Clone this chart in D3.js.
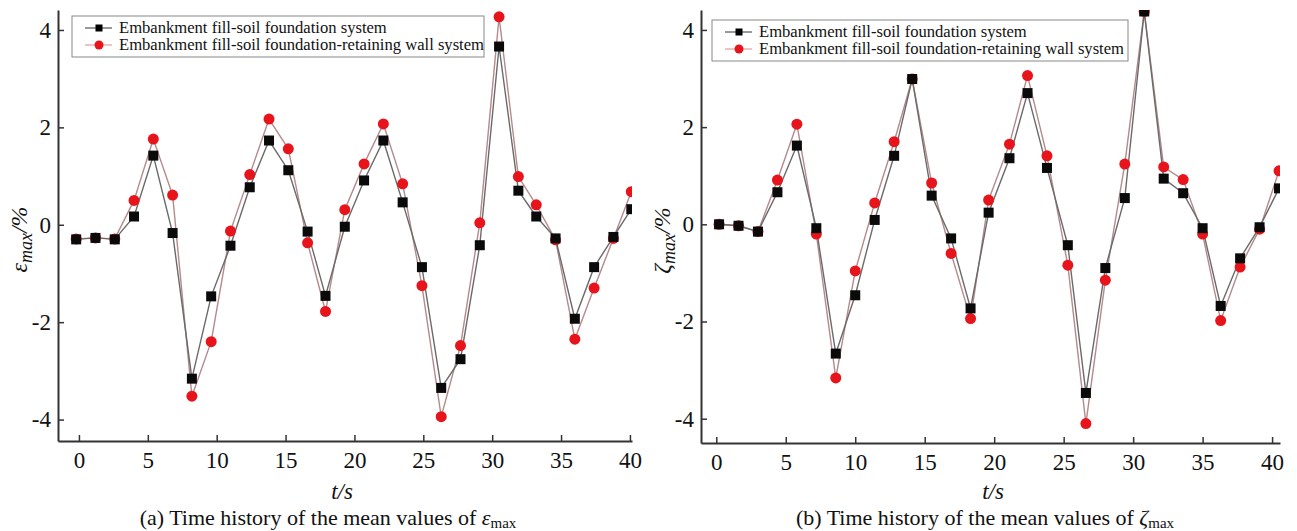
<!DOCTYPE html>
<html>
<head>
<meta charset="utf-8">
<script src="https://cdn.jsdelivr.net/npm/d3@7"></script>
<style>
  body { margin: 0; background: #fff; }
  svg text { font-family: "Liberation Serif", "Times New Roman", serif; }
</style>
</head>
<body>
<svg id="chart" width="1297" height="531"></svg>
<script>
// temps (s) et valeurs
const tA = [-0.2, 1.2, 2.6, 4.0, 5.4, 6.8, 8.2, 9.6, 11.0, 12.4, 13.8, 15.2, 16.6, 17.9, 19.3,
  20.7, 22.1, 23.5, 24.9, 26.3, 27.7, 29.1, 30.5, 31.9, 33.2, 34.6, 36.0, 37.4, 38.8, 40.1];
const epsSoil = [-0.30, -0.27, -0.30, 0.17, 1.42, -0.17, -3.16, -1.47, -0.43, 0.77, 1.73, 1.12, -0.14, -1.46, -0.04,
  0.91, 1.73, 0.46, -0.87, -3.35, -2.76, -0.42, 3.66, 0.70, 0.17, -0.28, -1.93, -0.87, -0.25, 0.32];
const epsWall = [-0.29, -0.27, -0.29, 0.50, 1.76, 0.61, -3.52, -2.40, -0.13, 1.03, 2.17, 1.56, -0.37, -1.78, 0.31,
  1.25, 2.07, 0.84, -1.25, -3.94, -2.48, 0.04, 4.27, 0.99, 0.41, -0.31, -2.35, -1.30, -0.28, 0.68];

const tB = [0.2, 1.6, 3.0, 4.4, 5.8, 7.2, 8.6, 10.0, 11.4, 12.8, 14.1, 15.5, 16.9, 18.3, 19.6,
  21.1, 22.4, 23.8, 25.3, 26.6, 28.0, 29.4, 30.8, 32.2, 33.6, 35.0, 36.3, 37.7, 39.1, 40.5];
const zetaSoil = [0.00, -0.03, -0.15, 0.66, 1.62, -0.08, -2.66, -1.46, 0.09, 1.41, 2.99, 0.59, -0.29, -1.73, 0.24,
  1.36, 2.70, 1.16, -0.43, -3.47, -0.90, 0.54, 4.38, 0.94, 0.64, -0.08, -1.68, -0.70, -0.06, 0.74];
const zetaWall = [0.00, -0.03, -0.15, 0.91, 2.06, -0.20, -3.16, -0.96, 0.44, 1.70, 2.99, 0.85, -0.60, -1.94, 0.50,
  1.65, 3.06, 1.41, -0.84, -4.10, -1.15, 1.24, 4.38, 1.18, 0.92, -0.20, -1.98, -0.88, -0.10, 1.10];

const xTicks = [0, 5, 10, 15, 20, 25, 30, 35, 40];
const yTicks = [-4, -2, 0, 2, 4];
const seriesNames = ["Embankment fill-soil foundation system",
  "Embankment fill-soil foundation-retaining wall system"];

const svg = d3.select("#chart");
const FONT = "Liberation Serif";

const panels = [
  { id: "a", t: tA, soil: epsSoil, wall: epsWall, sym: "ε",
    xDom: [-1.52, 40.15], xRange: [58, 632], yDom: [-4.44, 4.41], yRange: [441, 10],
    legend: { x: 72, y: 16, w: 412, h: 41 }, labelX: 27, tsX: 342, capX: 328 },
  { id: "b", t: tB, soil: zetaSoil, wall: zetaWall, sym: "ζ",
    xDom: [-1.1, 40.57], xRange: [701, 1280], yDom: [-4.5, 4.41], yRange: [443, 10],
    legend: { x: 712, y: 20, w: 416, h: 41 }, labelX: 670, tsX: 993, capX: 985 }
];

panels.forEach((p) => {
  const x = d3.scaleLinear().domain(p.xDom).range(p.xRange);
  const y = d3.scaleLinear().domain(p.yDom).range(p.yRange);
  const g = svg.append("g");

  g.append("clipPath").attr("id", "clip_" + p.id)
    .append("rect")
    .attr("x", p.xRange[0]).attr("y", p.yRange[1])
    .attr("width", p.xRange[1] - p.xRange[0]).attr("height", p.yRange[0] - p.yRange[1]);

  // axes (ticks vers l'intérieur)
  const fmt = (d) => String(d);
  const xAxis = g.append("g").attr("transform", `translate(0,${p.yRange[0]})`)
    .call(d3.axisBottom(x).tickValues(xTicks).tickFormat(fmt).tickSize(-6).tickPadding(11).tickSizeOuter(0));
  const yAxis = g.append("g").attr("transform", `translate(${p.xRange[0]},0)`)
    .call(d3.axisLeft(y).tickValues(yTicks).tickFormat(fmt).tickSize(-6).tickPadding(7).tickSizeOuter(0));
  [xAxis, yAxis].forEach((a) => {
    a.attr("font-family", FONT).attr("font-size", 23);
    a.select(".domain").attr("stroke", "#333").attr("stroke-width", 2);
    a.selectAll(".tick line").attr("stroke", "#333").attr("stroke-width", 1.5);
    a.selectAll(".tick text").attr("fill", "#111");
  });
  xAxis.selectAll(".tick text").attr("dy", "0.71em");

  const plot = g.append("g").attr("clip-path", `url(#clip_${p.id})`);
  const soilData = p.t.map((t, i) => ({ t, v: p.soil[i] }));
  const wallData = p.t.map((t, i) => ({ t, v: p.wall[i] }));
  const line = d3.line().x((d) => x(d.t)).y((d) => y(d.v));

  plot.append("path").datum(wallData).attr("d", line)
    .attr("fill", "none").attr("stroke", "#b58a8a").attr("stroke-width", 1.4);
  plot.append("path").datum(soilData).attr("d", line)
    .attr("fill", "none").attr("stroke", "#6a6a6a").attr("stroke-width", 1.4);

  plot.selectAll("circle.wall").data(wallData).enter().append("circle")
    .attr("class", "wall")
    .attr("cx", (d) => x(d.t)).attr("cy", (d) => y(d.v)).attr("r", 5.5)
    .attr("fill", "#e8141b");
  plot.selectAll("rect.soil").data(soilData).enter().append("rect")
    .attr("class", "soil")
    .attr("x", (d) => x(d.t) - 5).attr("y", (d) => y(d.v) - 5)
    .attr("width", 10).attr("height", 10).attr("fill", "#0a0a0a");

  // légende
  const L = p.legend;
  const lg = g.append("g").attr("transform", `translate(${L.x},${L.y})`);
  lg.append("rect").attr("width", L.w).attr("height", L.h)
    .attr("fill", "#fff").attr("stroke", "#888").attr("stroke-width", 1);
  seriesNames.forEach((name, i) => {
    const cy = 12 + i * 17;
    lg.append("line").attr("x1", 13).attr("x2", 40).attr("y1", cy).attr("y2", cy)
      .attr("stroke", i === 0 ? "#333" : "#d88").attr("stroke-width", 1);
    if (i === 0) {
      lg.append("rect").attr("x", 23.5).attr("y", cy - 3.5).attr("width", 7).attr("height", 7).attr("fill", "#000");
    } else {
      lg.append("circle").attr("cx", 27).attr("cy", cy).attr("r", 4.5).attr("fill", "#e8141b");
    }
    lg.append("text").attr("x", 47).attr("y", cy + 5).text(name)
      .attr("font-size", 16.6).attr("fill", "#111");
  });

  // titre axe y
  const yl = g.append("text")
    .attr("transform", `translate(${p.labelX},${(p.yRange[0] + p.yRange[1]) / 2 + 14}) rotate(-90)`)
    .attr("text-anchor", "middle").attr("font-size", 24).attr("fill", "#111");
  yl.append("tspan").attr("font-style", "italic").text(p.sym);
  yl.append("tspan").attr("font-style", "italic").attr("font-size", 18).attr("dy", 5).text("max");
  yl.append("tspan").attr("dy", -5).attr("font-style", "italic").text("/%");

  // titre axe x
  g.append("text").attr("x", p.tsX).attr("y", 499).attr("text-anchor", "middle")
    .attr("font-size", 23).attr("font-style", "italic").attr("fill", "#111").text("t/s");

  // légende de la figure
  const cap = g.append("text").attr("x", p.capX).attr("y", 525).attr("text-anchor", "middle")
    .attr("font-size", 22).attr("fill", "#111");
  cap.append("tspan").text(`(${p.id}) Time history of the mean values of `);
  cap.append("tspan").attr("font-style", "italic").text(p.sym);
  cap.append("tspan").attr("font-size", 15).attr("dy", 3).text("max");
});
</script>
</body>
</html>
